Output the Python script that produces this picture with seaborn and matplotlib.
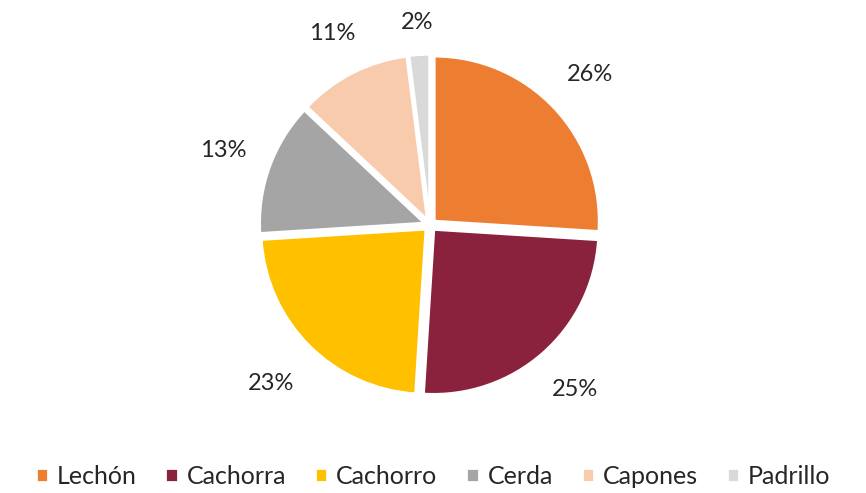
import matplotlib
matplotlib.use("Agg")
import matplotlib.pyplot as plt
import numpy as np
import seaborn as sns

categories = ["Lechón", "Cachorra", "Cachorro", "Cerda", "Capones", "Padrillo"]
shares = [26, 25, 23, 13, 11, 2]
colors = ["#ED7D31", "#8B223D", "#FFC000", "#A5A5A5", "#F8CBAD", "#D9D9D9"]
label_dist = [1.33, 1.33, 1.36, 1.33, 1.30, 1.23]

sns.set_theme(style="white")
plt.rcParams["font.family"] = ["Lato", "DejaVu Sans"]
palette = sns.color_palette(colors)

fig = plt.figure(figsize=(8.66, 4.93), dpi=100)
ax = fig.add_axes([0.1917, 0.1085, 0.6097, 0.870])

wedges, _, autotexts = ax.pie(
    shares,
    colors=palette,
    startangle=90,
    counterclock=False,
    explode=[0.035] * len(shares),
    autopct=lambda p: f"{p:.0f}%",
    pctdistance=1.3,
    wedgeprops=dict(edgecolor="white", linewidth=2),
    textprops=dict(fontsize=17, color="#262626"),
)

# push each percentage label out along its wedge's bisector
for w, t, d in zip(wedges, autotexts, label_dist):
    ang = np.deg2rad((w.theta1 + w.theta2) / 2)
    t.set_position((d * np.cos(ang), d * np.sin(ang)))

ax.set_xlim(-1.6, 1.6)
ax.set_ylim(-1.3, 1.3)
ax.set_aspect("equal")
ax.axis("off")

fig.legend(
    wedges, categories,
    loc="lower center", bbox_to_anchor=(0.5, -0.036),
    ncol=len(categories), frameon=False,
    fontsize=18, handlelength=0.5, handleheight=0.5,
    handletextpad=0.35, columnspacing=1.15,
)

fig.savefig("out.png", dpi=100)
